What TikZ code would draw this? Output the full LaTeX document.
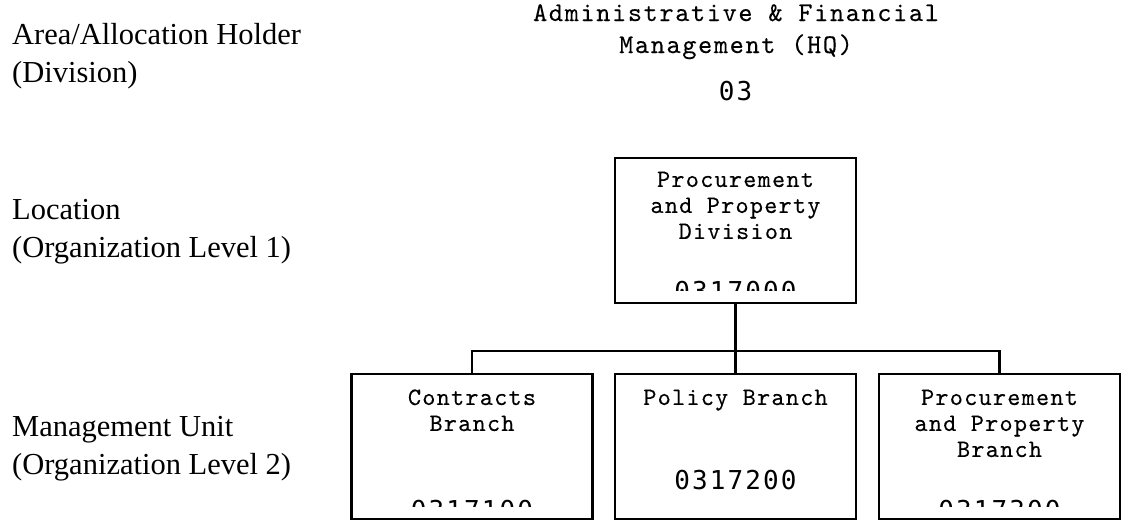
\documentclass[tikz,border=0pt]{standalone}
\usepackage{fontspec}
\setmainfont{Liberation Serif}
\newfontfamily\labfont{Liberation Serif}
\newfontfamily\numfont[LetterSpace=8]{DejaVu Sans Mono}
\newfontfamily\boxfont[LetterSpace=5,FakeBold=0.15]{lmmono10-regular.otf}
\newfontfamily\topfont[LetterSpace=6,FakeBold=0.15]{lmmono10-regular.otf}
\tikzset{
  orgbox/.style={draw=black, line width=2.1pt, minimum width=241pt, minimum height=145pt, inner sep=0pt},
  boxtxt/.style={font=\boxfont\fontsize{25}{26}\selectfont, align=center, anchor=base, inner sep=0pt},
  toptxt/.style={font=\topfont\fontsize{27}{32}\selectfont, align=center, anchor=base, inner sep=0pt},
  numtxt/.style={font=\numfont\fontsize{26}{30}\selectfont, anchor=base, inner sep=0pt},
  labtxt/.style={font=\labfont\fontsize{30.5}{38}\selectfont, align=left, anchor=base west, inner sep=0pt},
  conn/.style={draw=black, line width=2.1pt}
}
\begin{document}
\begin{tikzpicture}[x=1pt,y=-1pt]
\useasboundingbox[fill=white] (0,0) rectangle (1129,520);

% left level labels (anchor = baseline of the last line)
\node[labtxt] (l1) at (12,82) {Area/Allocation Holder\\(Division)};
\node[labtxt] (l2) at (12,257) {Location\\(Organization Level 1)};
\node[labtxt] (l3) at (12,474) {Management Unit\\(Organization Level 2)};

% top heading
\node[toptxt] (hq) at (736,53) {Administrative \& Financial\\Management (HQ)};
\node[numtxt] (hqn) at (735.5,100) {03};

% boxes
\node[orgbox] (top) at (735.5,230.5) {};
\node[orgbox] (con) at (472,446.5) {};
\node[orgbox] (pol) at (735.5,446.5) {};
\node[orgbox] (ppb) at (999.5,446.5) {};

% connectors
\coordinate (bus) at (735.5,351);
\draw[conn] (top.south) -- (pol.north);
\draw[conn] (con.north) |- (bus) -| (ppb.north);

% box texts (anchor = baseline of the last line)
\node[boxtxt] (toptx) at ([yshift=-82pt]top.north) {Procurement\\and Property\\Division};
\node[boxtxt] (contx) at ([yshift=-58pt]con.north) {Contracts\\Branch};
\node[boxtxt] (poltx) at ([yshift=-32pt]pol.north) {Policy Branch};
\node[boxtxt] (ppbtx) at ([yshift=-84pt]ppb.north) {Procurement\\and Property\\Branch};
\node[numtxt] (poln) at ([yshift=-117pt]pol.north) {0317200};

% clipped numbers
\begin{scope}
\clip ([xshift=2pt]top.north west) rectangle ([yshift=-134pt,xshift=-2pt]top.north east);
\node[numtxt] (topn) at ([yshift=-144pt]top.north) {0317000};
\end{scope}
\begin{scope}
\clip ([xshift=2pt]con.north west) rectangle ([yshift=-134pt,xshift=-2pt]con.north east);
\node[numtxt] (conn) at ([yshift=-147pt]con.north) {0317100};
\end{scope}
\begin{scope}
\clip ([xshift=2pt]ppb.north west) rectangle ([yshift=-134pt,xshift=-2pt]ppb.north east);
\node[numtxt] (ppbn) at ([yshift=-147pt]ppb.north) {0317300};
\end{scope}
\end{tikzpicture}
\end{document}
